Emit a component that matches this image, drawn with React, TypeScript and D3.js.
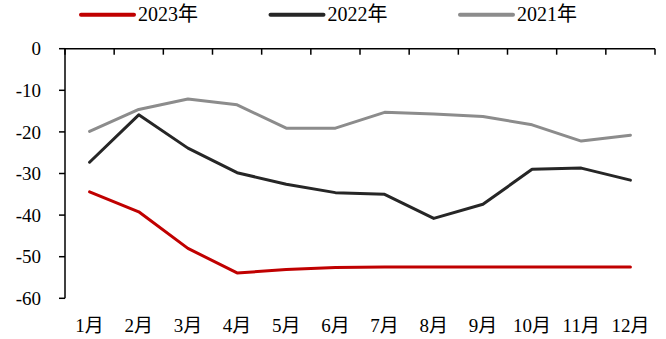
import React from 'react';
import * as d3 from 'd3';

const months = ['1月', '2月', '3月', '4月', '5月', '6月', '7月', '8月', '9月', '10月', '11月', '12月'];
const s2023 = [-34.4, -39.2, -48.0, -53.9, -53.1, -52.6, -52.5, -52.5, -52.5, -52.5, -52.5, -52.5];
const s2022 = [-27.3, -15.9, -23.9, -29.8, -32.6, -34.6, -35.0, -40.8, -37.4, -29.0, -28.7, -31.6];
const s2021 = [-19.9, -14.6, -12.1, -13.5, -19.1, -19.1, -15.3, -15.7, -16.3, -18.3, -22.2, -20.8];
const yTicks = [0, -10, -20, -30, -40, -50, -60];

const seriesList = [
  { name: '2023年', values: s2023, color: '#c00000' },
  { name: '2022年', values: s2022, color: '#262626' },
  { name: '2021年', values: s2021, color: '#8c8c8c' },
];

const W = 666;
const H = 339;
const plot = { left: 65, right: 655, top: 48.7, bottom: 298.3 };
const FONT = '"Liberation Serif", "Times New Roman", "Noto Sans CJK SC", serif';

export default function App() {
  const x = d3.scaleBand<string>().domain(months).range([plot.left, plot.right]);
  const y = d3.scaleLinear().domain([-60, 0]).range([plot.bottom, plot.top]);
  const cx = (m: string) => (x(m) as number) + x.bandwidth() / 2;

  const line = d3
    .line<number>()
    .x((_, i) => cx(months[i]))
    .y((v) => y(v));

  const boundaries = months.map((m) => x(m) as number).concat([plot.right]);

  return (
    <svg
      width={W}
      height={H}
      viewBox={`0 0 ${W} ${H}`}
      style={{ position: 'absolute', left: 0, top: 0, background: '#fff' }}
    >
      {/* legend */}
      {seriesList.map((s, i) => {
        const lx = 81 + i * 189.5;
        return (
          <g key={s.name}>
            <line x1={lx} x2={lx + 53} y1={14.7} y2={14.7} stroke={s.color} strokeWidth={4} strokeLinecap="round" />
            <text x={lx + 57} y={21} fontSize={20} fontFamily={FONT} fill="#000">
              {s.name}
            </text>
          </g>
        );
      })}

      {/* y axis */}
      <line x1={plot.left} x2={plot.left} y1={y(0)} y2={y(-60)} stroke="#000" strokeWidth={1.5} />
      {yTicks.map((t) => (
        <g key={t}>
          <line x1={plot.left - 6} x2={plot.left} y1={y(t)} y2={y(t)} stroke="#000" strokeWidth={1.5} />
          <text
            x={41}
            y={y(t)}
            dy="0.35em"
            textAnchor="end"
            fontSize={19}
            fontFamily={FONT}
            fill="#000"
          >
            {t}
          </text>
        </g>
      ))}

      {/* category axis at zero */}
      <line x1={plot.left} x2={plot.right} y1={y(0)} y2={y(0)} stroke="#000" strokeWidth={1.5} />
      {boundaries.map((bx, i) => (
        <line key={i} x1={bx} x2={bx} y1={y(0)} y2={y(0) + 6} stroke="#000" strokeWidth={1.5} />
      ))}
      {months.map((m) => (
        <text
          key={m}
          x={cx(m)}
          y={332}
          textAnchor="middle"
          fontSize={19}
          fontFamily={FONT}
          fill="#000"
        >
          {m}
        </text>
      ))}

      {/* series lines */}
      {seriesList.map((s) => (
        <path
          key={s.name}
          d={line(s.values) || ''}
          fill="none"
          stroke={s.color}
          strokeWidth={3}
          strokeLinejoin="round"
          strokeLinecap="round"
        />
      ))}
    </svg>
  );
}
